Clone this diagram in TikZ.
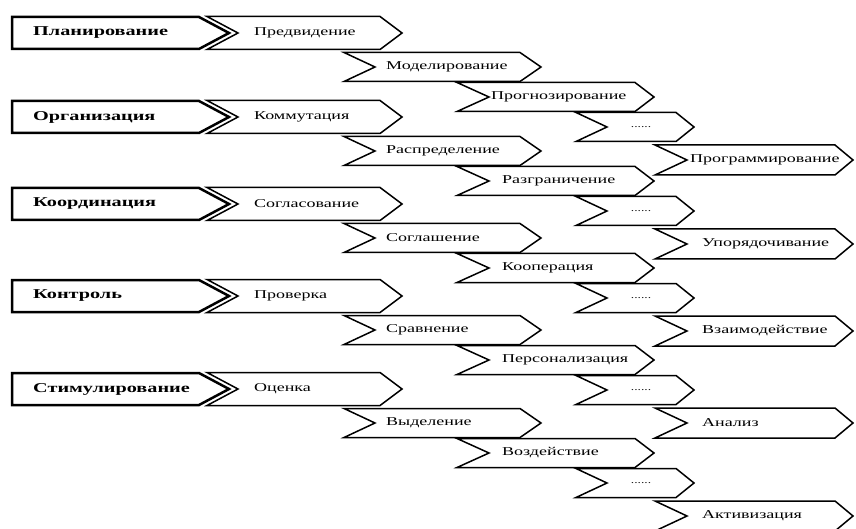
\documentclass[tikz,border=0pt]{standalone}
\usepackage{fontspec}
\setmainfont{Liberation Serif}[FakeStretch=1.5]
\tikzset{
  chevline/.style={draw=black, line width=1.5pt, line join=miter, fill=white},
  mainline/.style={draw=black, line width=2.5pt, line join=miter, fill=white},
  maintxt/.style={anchor=west, inner sep=0pt, font=\fontsize{13.5}{15}\selectfont\bfseries},
  subtxt/.style={anchor=west, inner sep=0pt, font=\fontsize{12}{14}\selectfont},
  dotstxt/.style={inner sep=0pt, font=\fontsize{9}{10}\selectfont},
}
% \chevron{left}{notch apex}{straight end}{tip}{y centre}{half height}
\newcommand{\chevron}[6]{%
  \draw[chevline] ({#1},{#5-#6}) -- ({#3},{#5-#6}) -- ({#4},{#5}) -- ({#3},{#5+#6})
    -- ({#1},{#5+#6}) -- ({#2},{#5}) -- cycle;}
\newcommand{\mainbox}[1]{%
  \draw[mainline] (12,{#1-16}) -- (199,{#1-16}) -- (229,{#1}) -- (199,{#1+16})
    -- (12,{#1+16}) -- cycle;}
% one group of chevrons at centre y
\newcommand{\chevgroup}[1]{%
  \chevron{207}{238}{380}{402}{#1}{16.5}
  \chevron{344}{375}{520}{541}{#1+34}{14.5}
  \chevron{457}{489}{635}{654}{#1+64}{14.5}
  \chevron{576}{607}{676}{694}{#1+94}{14.5}
  \chevron{655}{687}{835}{853}{#1+127}{15}
  \mainbox{#1}
}
\begin{document}
\begin{tikzpicture}[x=1pt,y=-1pt]
\useasboundingbox (0,0) rectangle (856,529);

% group 1
\chevgroup{33}
\node[maintxt] (m1) at (33,33) {Планирование};
\node[subtxt] (a1) at (254,33) {Предвидение};
\node[subtxt] (b1) at (386,67) {Моделирование};
\node[subtxt] (c1) at (491,97) {Прогнозирование};
\node[dotstxt] (d1) at (641,127) {......};
\node[subtxt] (e1) at (690,160) {Программирование};

% group 2
\chevgroup{117}
\node[maintxt] (m2) at (33,117) {Организация};
\node[subtxt] (a2) at (254,117) {Коммутация};
\node[subtxt] (b2) at (386,151) {Распределение};
\node[subtxt] (c2) at (502,181) {Разграничение};
\node[dotstxt] (d2) at (641,211) {......};
\node[subtxt] (e2) at (702,244) {Упорядочивание};

% group 3
\chevgroup{204}
\node[maintxt] (m3) at (33,204) {Координация};
\node[subtxt] (a3) at (254,204) {Согласование};
\node[subtxt] (b3) at (386,238) {Соглашение};
\node[subtxt] (c3) at (502,268) {Кооперация};
\node[dotstxt] (d3) at (641,298) {......};
\node[subtxt] (e3) at (702,331) {Взаимодействие};

% group 4
\chevgroup{296}
\node[maintxt] (m4) at (33,296) {Контроль};
\node[subtxt] (a4) at (254,296) {Проверка};
\node[subtxt] (b4) at (386,330) {Сравнение};
\node[subtxt] (c4) at (502,360) {Персонализация};
\node[dotstxt] (d4) at (641,390) {......};
\node[subtxt] (e4) at (702,423) {Анализ};

% group 5
\chevgroup{389}
\node[maintxt] (m5) at (33,389) {Стимулирование};
\node[subtxt] (a5) at (254,389) {Оценка};
\node[subtxt] (b5) at (386,423) {Выделение};
\node[subtxt] (c5) at (502,453) {Воздействие};
\node[dotstxt] (d5) at (641,483) {......};
\node[subtxt] (e5) at (702,516) {Активизация};
\end{tikzpicture}
\end{document}
